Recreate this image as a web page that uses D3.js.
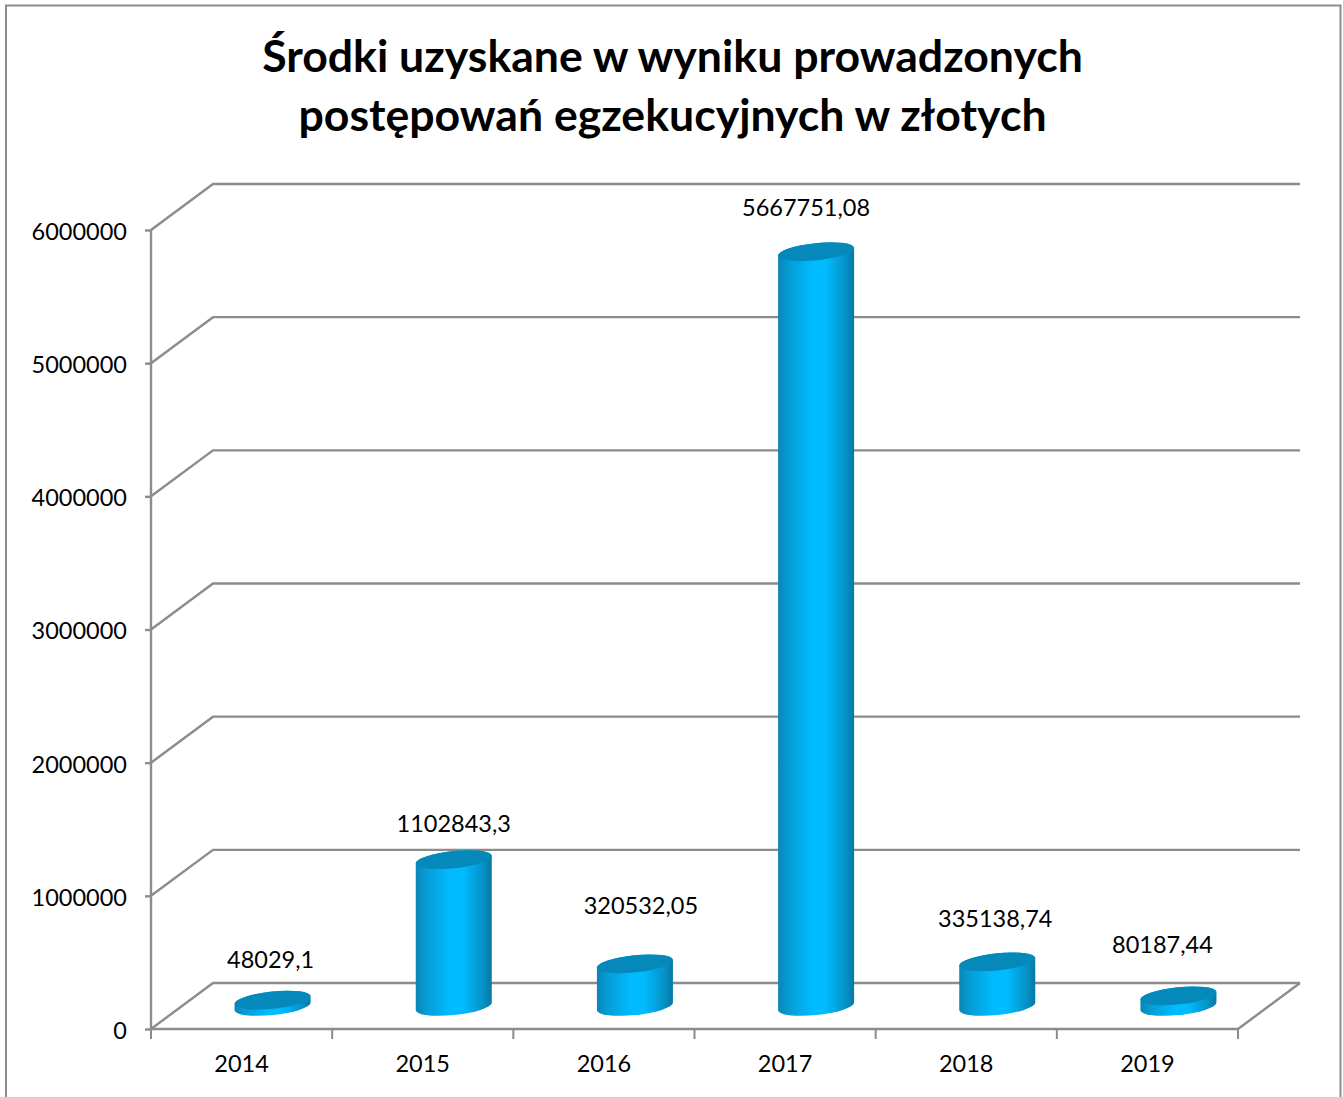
<!DOCTYPE html>
<html><head><meta charset="utf-8">
<script src="https://cdn.jsdelivr.net/npm/d3@7"></script>
<style>
html,body{margin:0;padding:0;background:#fff;overflow:hidden}
text{font-family:Lato,"Open Sans",sans-serif;fill:#000}
</style></head><body><div id="c"></div>
<script>
const titleLines = ["Środki uzyskane w wyniku prowadzonych","postępowań egzekucyjnych w złotych"];
const years = ["2014","2015","2016","2017","2018","2019"];
const values = [48029.1,1102843.3,320532.05,5667751.08,335138.74,80187.44];
const valueLabels = ["48029,1","1102843,3","320532,05","5667751,08","335138,74","80187,44"];
const yTicks = [0,1000000,2000000,3000000,4000000,5000000,6000000];
const labelShiftX = [-2,0,6,-10,-2,-16];
const labelShiftY = [-40,-36,-58,-44,-43,-51];

const W=1343,H=1097;
const x0=151,x1=1238,y0=1029,y6=230,dx=62,dy=-46;
const svg=d3.select("#c").append("svg").attr("width",W).attr("height",H).style("display","block");
const x=d3.scaleBand().domain(years).range([x0,x1]);
const y=d3.scaleLinear().domain([0,6000000]).range([y0,y6]);
const grid="#8c8c8c";

svg.append("path").attr("d",`M6,${H}V5.5H1340.5V${H}`).attr("fill","none").attr("stroke","#8c8c8c").attr("stroke-width",2);

const grad=svg.append("defs").append("linearGradient").attr("id","cyl");
[[0,"#0a86b6"],[0.15,"#059ed6"],[0.45,"#00bbff"],[0.62,"#00bbff"],[0.88,"#0593c8"],[1,"#0778a6"]]
 .forEach(s=>grad.append("stop").attr("offset",s[0]).attr("stop-color",s[1]));

svg.selectAll("text.t").data(titleLines).join("text").attr("class","t")
 .attr("x",672.5).attr("y",(d,i)=>72+i*59).attr("text-anchor","middle")
 .attr("font-size",44.6).attr("font-weight",700).text(d=>d);

const g=svg.append("g").attr("fill","none").attr("stroke",grid).attr("stroke-width",2.4);
yTicks.forEach(t=>{
  g.append("path").attr("d",`M${x0},${y(t)}L${x0+dx},${y(t)+dy}H${x1+dx}`);
});
g.append("path").attr("d",`M${x1},${y0}L${x1+dx},${y0+dy}`);

const ax=svg.append("g").attr("transform",`translate(${x0},0)`)
 .call(d3.axisLeft(y).tickValues(yTicks).tickFormat(d3.format("d")).tickSize(6).tickPadding(18));
const ax2=svg.append("g").attr("transform",`translate(0,${y0})`)
 .call(d3.axisBottom(x).tickSize(10).tickPadding(16));
[ax,ax2].forEach(a=>{
  a.selectAll("path.domain,line").attr("stroke",grid).attr("stroke-width",2.4);
  a.selectAll("text").attr("font-size",23.5).attr("font-family","Lato").attr("fill","#000");
});
ax.selectAll(".tick text").attr("dy","0.40em");
ax.select("path.domain").attr("d",`M0,${y6}V${y0}`);
ax2.select("path.domain").attr("d",`M${x0},0H${x1}`);
ax2.selectAll("line").remove();
years.concat("end").forEach((d,i)=>{
  const px=x0+i*x.step();
  ax2.append("line").attr("x1",px).attr("x2",px).attr("y1",0).attr("y2",10).attr("stroke",grid).attr("stroke-width",2);
});

const a=38.2,b=8.6,rot=-6,ex=38,ey=3.8;
const cyl=svg.selectAll("g.c").data(years).join("g").attr("class","c");
cyl.each(function(d,i){
  const s=d3.select(this), cx=x(d)+x.step()/2+dx/2;
  const yb=y(0)+dy/2+0.5, yt=y(values[i])+dy/2+0.5;
  s.append("path").attr("fill","url(#cyl)")
   .attr("d",`M${cx-ex},${yt+ey}V${yb+ey}A${a},${b} ${rot} 0 0 ${cx+ex},${yb-ey}V${yt-ey}A${a},${b} ${rot} 0 0 ${cx-ex},${yt+ey}Z`);
  s.append("ellipse").attr("rx",a).attr("ry",b)
   .attr("transform",`translate(${cx},${yt}) rotate(${rot})`).attr("fill","#0589bb");
  s.append("text").attr("x",cx+labelShiftX[i]).attr("y",yt+labelShiftY[i]+8)
   .attr("text-anchor","middle").attr("font-size",23.5).text(valueLabels[i]);
});
</script></body></html>
